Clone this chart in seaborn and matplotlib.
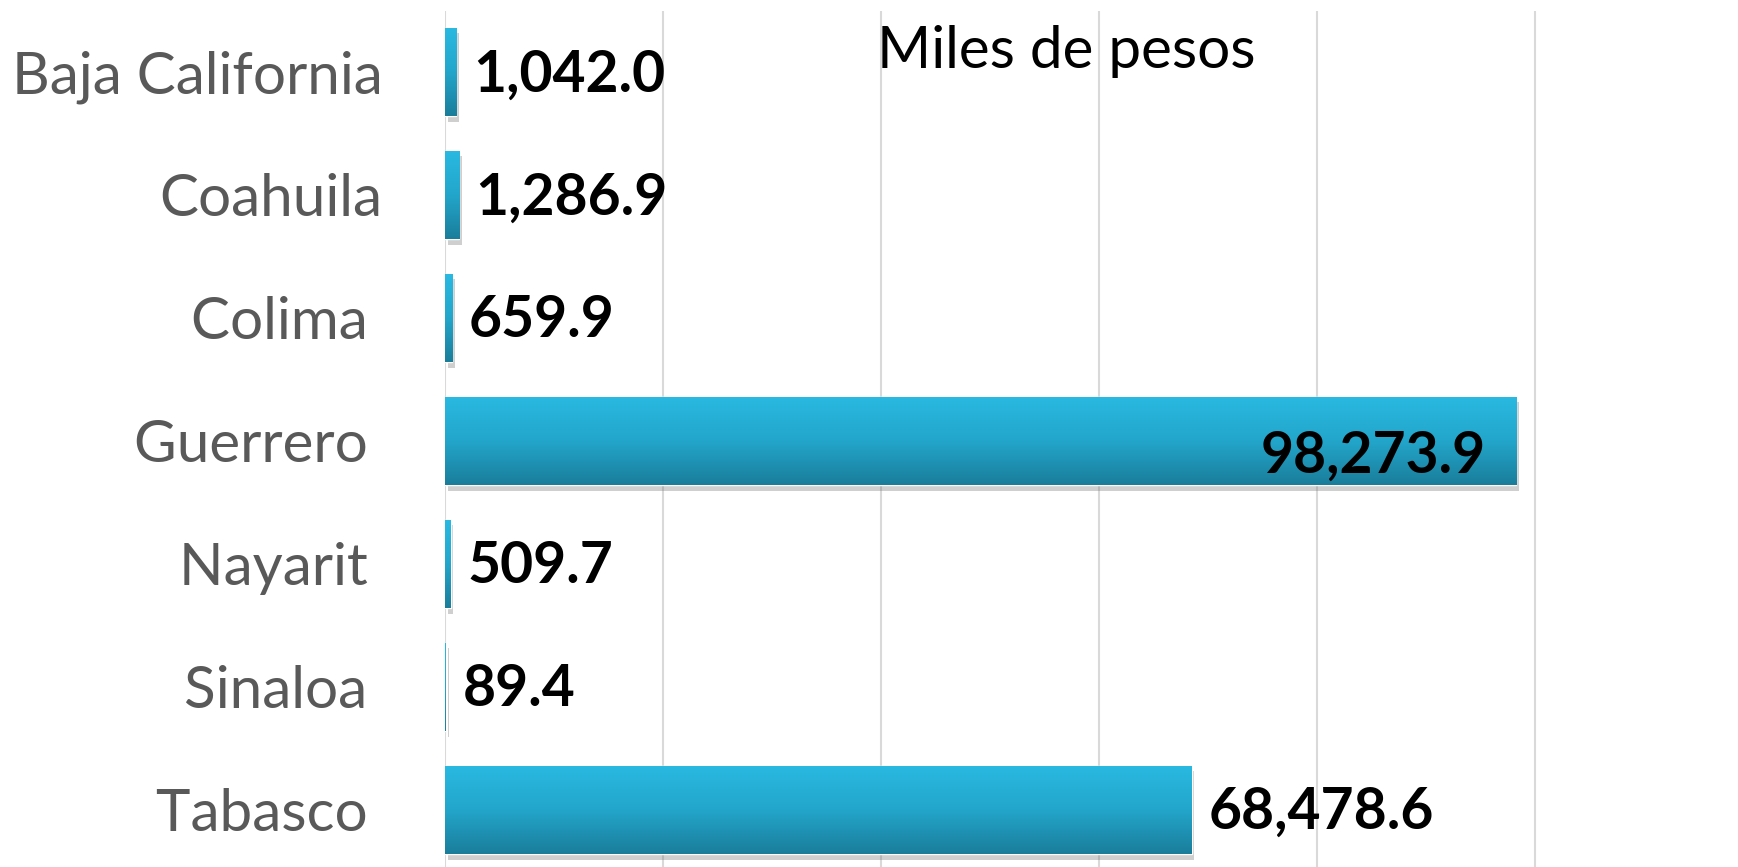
import numpy as np
import matplotlib
matplotlib.use("Agg")
import matplotlib.pyplot as plt
import matplotlib.patheffects as pe
import seaborn as sns

# datos
estados = ["Baja California", "Coahuila", "Colima ", "Guerrero ", "Nayarit ", "Sinaloa ", "Tabasco "]
valores = [1042.0, 1286.9, 659.9, 98273.9, 509.7, 89.4, 68478.6]
titulo = "Miles de pesos"

sns.set_style("white")
plt.rcParams["font.family"] = ["Lato", "DejaVu Sans"]

W, H = 1738, 867
fig = plt.figure(figsize=(W / 100, H / 100), dpi=100)
ax = fig.add_axes([445 / W, 0, (W - 445) / W, (H - 11) / H])

sns.barplot(x=valores, y=estados, orient="h", color="#29B8E0", width=0.72,
            saturation=1, ax=ax, zorder=3)

xmax = 118600

# degradado vertical en cada barra
grad = np.linspace(0, 1, 64).reshape(-1, 1)
cmap = matplotlib.colors.LinearSegmentedColormap.from_list("g", ["#29B9E1", "#23A6CB", "#1A7E9B"])
for p in ax.patches:
    p.set_path_effects([pe.SimplePatchShadow(offset=(2, -4), shadow_rgbFace="#777777", alpha=0.35), pe.Normal()])
    x0, y0 = p.get_x(), p.get_y()
    w, h = p.get_width(), p.get_height()
    im = ax.imshow(grad, cmap=cmap, aspect="auto", extent=(x0, x0 + w, y0 + h, y0),
                   zorder=4, interpolation="bicubic")
    im.set_clip_path(p)

ax.set_xticks(range(0, 100001, 20000))
ax.xaxis.grid(True, color="#D9D9D9", lw=1.5, zorder=0)
ax.set_xticklabels([])
ax.set_xlim(0, xmax)
ax.set_ylim(6.464, -0.496)

# etiquetas de valor
for i, v in enumerate(valores):
    txt = f"{v:,.1f}"
    if v > 0.75 * xmax:
        ax.annotate(txt, (v, i), xytext=(-22, -11), textcoords="offset points",
                    ha="right", va="center", fontsize=41, fontweight="bold",
                    color="black", zorder=6)
    else:
        ax.annotate(txt, (v, i), xytext=(12, -2), textcoords="offset points",
                    ha="left", va="center", fontsize=41, fontweight="bold",
                    color="black", zorder=6)

ax.tick_params(axis="both", length=0)
ax.tick_params(axis="y", pad=45, labelsize=42, labelcolor="#595959")
ax.set_xlabel("")
ax.set_ylabel("")
sns.despine(ax=ax, left=True, bottom=True)

fig.text(1066 / W, 1 - 52 / H, titulo, ha="center", va="center", fontsize=42, color="black")

fig.savefig("out.png", dpi=100)
